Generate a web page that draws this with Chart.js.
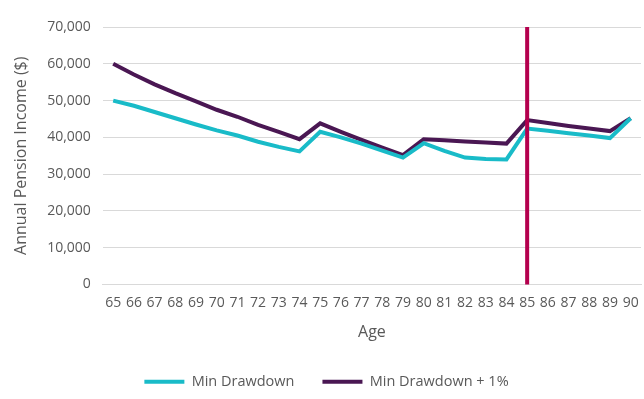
<!DOCTYPE html>
<html>
<head>
<meta charset="utf-8">
<script src="https://cdn.jsdelivr.net/npm/chart.js@4/dist/chart.umd.min.js"></script>
<style>
  html, body { margin: 0; padding: 0; background: #fff; }
  #wrap { width: 644px; height: 399px; }
</style>
</head>
<body>
<div id="wrap"><canvas id="pensionChart"></canvas></div>
<script>
// данные
const ages = [65, 66, 67, 68, 69, 70, 71, 72, 73, 74, 75, 76, 77, 78, 79, 80, 81, 82, 83, 84, 85, 86, 87, 88, 89, 90];
const minDrawdown = [50000, 48600, 46900, 45200, 43500, 41900, 40500, 38800, 37400, 36200, 41500, 40000, 38300, 36400, 34500, 38400, 36300, 34500, 34100, 34000, 42400, 41800, 41100, 40500, 39800, 45200];
const minDrawdownPlus1 = [60000, 57100, 54400, 52000, 49800, 47500, 45600, 43400, 41500, 39500, 43800, 41500, 39300, 37200, 35200, 39500, 39200, 38900, 38600, 38300, 44700, 43900, 43100, 42400, 41700, 45200];
const yTicks = [0, 10000, 20000, 30000, 40000, 50000, 60000, 70000];
const markerAge = 85;

const textColor = '#595959';
const fontFamily = "'Open Sans', 'Liberation Sans', sans-serif";

// вертикальная линия на возрасте 85
const markerLine = {
  id: 'markerLine',
  afterDatasetsDraw(chart) {
    const { ctx, chartArea, scales } = chart;
    const x = scales.x.getPixelForValue(ages.indexOf(markerAge));
    ctx.save();
    ctx.strokeStyle = '#B4004E';
    ctx.lineWidth = 4;
    ctx.beginPath();
    ctx.moveTo(x, chartArea.top);
    ctx.lineTo(x, chartArea.bottom);
    ctx.stroke();
    ctx.restore();
  }
};

new Chart(document.getElementById('pensionChart').getContext('2d'), {
  type: 'line',
  data: {
    labels: ages.map(String),
    datasets: [
      {
        label: 'Min Drawdown',
        data: minDrawdown,
        borderColor: '#19BBC8',
        backgroundColor: '#19BBC8',
        borderWidth: 4,
        pointRadius: 0,
        tension: 0
      },
      {
        label: 'Min Drawdown + 1%',
        data: minDrawdownPlus1,
        borderColor: '#4A1753',
        backgroundColor: '#4A1753',
        borderWidth: 4,
        pointRadius: 0,
        tension: 0
      }
    ]
  },
  options: {
    responsive: true,
    maintainAspectRatio: false,
    animation: false,
    layout: { padding: { top: 27, right: 3, left: 12, bottom: 0 } },
    plugins: {
      legend: {
        position: 'bottom',
        labels: {
          color: textColor,
          font: { family: fontFamily, size: 14.5 },
          boxWidth: 40,
          boxHeight: 4,
          padding: 28,
          generateLabels: chart => Chart.defaults.plugins.legend.labels.generateLabels(chart)
            .map(item => ({ ...item, lineWidth: 0 }))
        }
      },
      tooltip: { enabled: false }
    },
    scales: {
      x: {
        offset: true,
        afterFit: s => { s.paddingLeft = 0; s.paddingRight = 0; },
        grid: { display: false, drawTicks: false },
        border: { color: '#D9D9D9', width: 1 },
        ticks: {
          color: textColor,
          font: { family: fontFamily, size: 14 },
          maxRotation: 0,
          autoSkip: false,
          padding: 10
        },
        title: {
          display: true,
          text: 'Age',
          color: textColor,
          font: { family: fontFamily, size: 16 },
          padding: { top: 2, bottom: 4 }
        }
      },
      y: {
        min: 0,
        max: 70000,
        afterBuildTicks: axis => { axis.ticks = yTicks.map(v => ({ value: v })); },
        grid: { color: '#D9D9D9', drawTicks: false },
        border: { display: false },
        ticks: {
          color: textColor,
          font: { family: fontFamily, size: 14 },
          padding: 12,
          callback: v => v.toLocaleString('en-US')
        },
        title: {
          display: true,
          text: 'Annual Pension Income ($)',
          color: textColor,
          font: { family: fontFamily, size: 16 },
          padding: { top: 0, bottom: 4 }
        }
      }
    }
  },
  plugins: [markerLine]
});
</script>
</body>
</html>
